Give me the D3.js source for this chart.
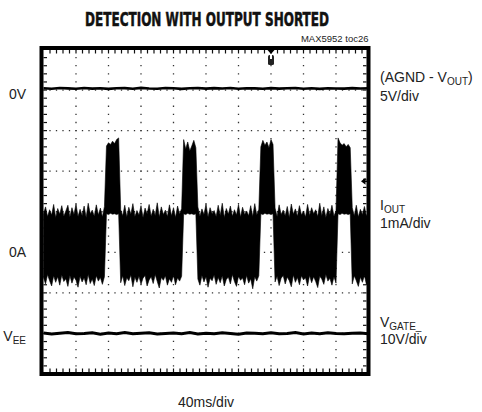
<!DOCTYPE html>
<meta charset="utf-8">
<style>
body { margin: 0; background: #fff; }
text {
  font-family: "Liberation Sans", Arial, sans-serif;
  font-size: 14px;
  fill: #222;
}
.title {
  font-family: "Liberation Sans Narrow", "DejaVu Sans Condensed", sans-serif;
  font-weight: bold;
  font-size: 19px;
  fill: #111;
  stroke: #111;
  stroke-width: 0.5;
}
.note { font-size: 9.5px; }
</style>
<svg width="482" height="412"></svg>
<script src="https://d3js.org/d3.v7.min.js"></script>
<script>

// current trace (IOUT, mA), one min/max pair every 2.5 ms
var timeStep = 2.5;
var iHigh = [
  0.95,1.12,0.88,1.05,0.92,1.18,0.86,1.08,0.94,1.15,0.89,1.02,1.16,0.87,1.10,0.93,1.19,0.88,1.06,0.91,1.14,0.86,1.21,0.95,1.04,0.89,1.17,0.92,1.09,0.87,1.13,
  2.62,2.70,2.66,2.74,2.68,2.78,2.82,
  1.05,0.90,1.16,0.87,1.11,0.94,1.20,0.88,1.03,0.92,1.15,0.86,1.09,0.95,1.18,0.89,1.06,0.91,1.22,0.87,1.12,0.93,1.04,0.88,1.17,0.90,1.10,0.86,1.14,0.94,1.08,
  2.78,2.55,2.72,2.50,2.62,2.76,2.58,
  1.12,0.89,1.07,0.93,1.19,0.87,1.10,0.95,1.03,0.88,1.16,0.91,1.21,0.86,1.08,0.94,1.14,0.89,1.05,0.92,1.18,0.87,1.11,0.93,1.02,0.90,1.15,0.88,1.20,0.92,1.06,
  2.60,2.76,2.64,2.72,2.58,2.78,2.66,
  1.09,0.88,1.17,0.93,1.04,0.90,1.13,0.86,1.19,0.94,1.07,0.89,1.15,0.92,1.02,0.87,1.18,0.91,1.10,0.95,1.05,0.88,1.21,0.90,1.12,0.86,1.08,0.93,1.16,0.89,1.03,
  2.82,2.70,2.64,2.68,2.60,2.66,2.58,
  1.10,0.90,1.16,0.87,1.06,0.93,1.13,0.89,1.02
];
var iLow = [
  -0.62,-0.78,-0.55,-0.70,-0.83,-0.58,-0.74,-0.60,-0.81,-0.56,-0.72,-0.65,-0.84,-0.57,-0.76,-0.61,-0.69,-0.86,-0.59,-0.73,-0.63,-0.80,-0.55,-0.77,-0.66,-0.82,-0.58,-0.71,-0.62,-0.79,-0.60,
  0.95,0.93,0.96,0.94,0.95,0.93,0.95,
  -0.75,-0.58,-0.82,-0.63,-0.70,-0.56,-0.85,-0.61,-0.74,-0.59,-0.79,-0.64,-0.57,-0.83,-0.68,-0.60,-0.77,-0.55,-0.72,-0.88,-0.62,-0.69,-0.58,-0.81,-0.65,-0.74,-0.57,-0.80,-0.63,-0.71,-0.59,
  0.95,0.93,0.96,0.94,0.95,0.93,0.95,
  -0.66,-0.81,-0.57,-0.73,-0.60,-0.86,-0.64,-0.70,-0.56,-0.79,-0.62,-0.75,-0.58,-0.83,-0.67,-0.61,-0.78,-0.55,-0.72,-0.84,-0.59,-0.69,-0.63,-0.80,-0.57,-0.76,-0.65,-0.90,-0.60,-0.71,-0.58,
  0.95,0.93,0.96,0.94,0.95,0.93,0.95,
  -0.73,-0.59,-0.82,-0.64,-0.57,-0.78,-0.61,-0.70,-0.85,-0.56,-0.74,-0.62,-0.80,-0.58,-0.68,-0.63,-0.83,-0.57,-0.75,-0.60,-0.72,-0.87,-0.59,-0.66,-0.79,-0.55,-0.71,-0.64,-0.81,-0.60,-0.76,
  0.95,0.93,0.96,0.94,0.95,0.93,0.95,
  -0.78,-0.58,-0.70,-0.84,-0.61,-0.74,-0.57,-0.80,-0.65
];

// voltage traces, one sample every 10 ms
var traceStep = 10;
var vOut = [0.02,-0.04,0.05,0.01,-0.03,0.06,-0.02,0.03,-0.05,0.02,0.04,-0.03,0.07,0.00,-0.04,0.05,0.02,-0.05,0.03,0.06,-0.02,
            0.04,-0.01,0.05,-0.04,0.02,0.01,-0.03,0.04,-0.02,0.03,0.06,-0.03,0.02,-0.05,0.03,0.00,-0.02,0.04,-0.01,0.02];
var vGate = [0.1,-0.15,0.05,0.2,-0.1,0.0,0.15,-0.2,0.1,-0.05,0.2,-0.1,0.05,0.15,-0.15,0.0,0.1,-0.05,0.2,-0.15,0.05,
             -0.1,0.15,0.0,-0.2,0.1,0.05,-0.1,0.15,-0.05,0.0,0.2,-0.15,0.1,-0.05,0.15,0.0,-0.1,0.05,0.1,-0.05];

// channel settings: position of ground (divisions) and units per division
var ch1Zero = 3.04, ch1Scale = 5;   // AGND - VOUT, V
var ch2Zero = -1,   ch2Scale = 1;   // IOUT, mA
var ch3Zero = -3,   ch3Scale = 10;  // VGATE, V
var triggerTime = 280, triggerLevel = 1.75;

var svg = d3.select("svg");

var x = d3.scaleLinear().domain([0, 400]).range([43.5, 368.5]);
var y = d3.scaleLinear().domain([-4, 4]).range([374, 49.5]);

// grid
var grid = svg.append("g").attr("stroke", "#333").attr("stroke-width", 1.3);
grid.selectAll(".vg").data(d3.range(40, 400, 40)).enter().append("line")
  .attr("x1", d => x(d)).attr("x2", d => x(d))
  .attr("y1", y(4)).attr("y2", y(-4))
  .attr("stroke-dasharray", "1.3," + (y(3.8) - y(4) - 1.3).toFixed(2))
  .attr("stroke-dashoffset", 0.65 - (y(3.8) - y(4)));
grid.selectAll(".hg").data(d3.range(-3, 4)).enter().append("line")
  .attr("y1", d => y(d)).attr("y2", d => y(d))
  .attr("x1", x(0)).attr("x2", x(400))
  .attr("stroke-dasharray", "1.3," + (x(8) - x(0) - 1.3).toFixed(2))
  .attr("stroke-dashoffset", 0.65 - (x(8) - x(0)));

// minor ticks on the frame
var ticks = svg.append("g").attr("stroke", "#111").attr("stroke-width", 1.2);
var tx = d3.range(8, 400, 8), ty = d3.range(-3.8, 4, 0.2);
ticks.selectAll(".tt").data(tx).enter().append("line")
  .attr("x1", d => x(d)).attr("x2", d => x(d)).attr("y1", 50).attr("y2", 53.5);
ticks.selectAll(".tb").data(tx).enter().append("line")
  .attr("x1", d => x(d)).attr("x2", d => x(d)).attr("y1", 372).attr("y2", 368.5);
ticks.selectAll(".tl").data(ty).enter().append("line")
  .attr("y1", d => y(d)).attr("y2", d => y(d)).attr("x1", 43.5).attr("x2", 47);
ticks.selectAll(".tr").data(ty).enter().append("line")
  .attr("y1", d => y(d)).attr("y2", d => y(d)).attr("x1", 366.5).attr("x2", 363);

// IOUT band
var band = d3.area()
  .x((d, i) => x(i * timeStep))
  .y0((d, i) => y(ch2Zero + iLow[i] / ch2Scale))
  .y1(d => y(ch2Zero + d / ch2Scale));
svg.append("path").datum(iHigh).attr("d", band)
  .attr("fill", "#000").attr("stroke", "#000").attr("stroke-width", 0.6);

// voltage traces
var line1 = d3.line().x((d, i) => x(i * traceStep)).y(d => y(ch1Zero + d / ch1Scale));
var line3 = d3.line().x((d, i) => x(i * traceStep)).y(d => y(ch3Zero + d / ch3Scale));
svg.append("path").datum(vOut).attr("d", line1)
  .attr("fill", "none").attr("stroke", "#000").attr("stroke-width", 2.6);
svg.append("path").datum(vGate).attr("d", line3)
  .attr("fill", "none").attr("stroke", "#000").attr("stroke-width", 3);

// trigger markers
var tX = x(triggerTime);
svg.append("path").attr("d", "M" + (tX - 3.5) + ",50L" + (tX + 3.5) + ",50L" + tX + ",54Z").attr("fill", "#000");
svg.append("rect").attr("x", tX - 3).attr("y", 55).attr("width", 6).attr("height", 10)
  .attr("rx", 1.5).attr("fill", "#222");
svg.append("rect").attr("x", tX - 1).attr("y", 55).attr("width", 2).attr("height", 4).attr("fill", "#fff");
var tY = y(ch2Zero + triggerLevel / ch2Scale);
svg.append("path").attr("d", "M361," + tY + "L365.5," + (tY - 3.5) + "L365.5," + (tY + 3.5) + "Z").attr("fill", "#000");
svg.append("line").attr("x1", 364).attr("x2", 367).attr("y1", tY).attr("y2", tY)
  .attr("stroke", "#000").attr("stroke-width", 1.5);

// frame
svg.append("rect").attr("x", 41.5).attr("y", 48).attr("width", 327).attr("height", 326)
  .attr("fill", "none").attr("stroke", "#000").attr("stroke-width", 4);

// texts
svg.append("text").attr("class", "title").attr("x", 207).attr("y", 26)
  .attr("text-anchor", "middle").attr("textLength", 244).attr("lengthAdjust", "spacingAndGlyphs")
  .text("DETECTION WITH OUTPUT SHORTED");
svg.append("text").attr("class", "note").attr("x", 368.5).attr("y", 42)
  .attr("text-anchor", "end").text("MAX5952 toc26");

function label(xp, yp, main, sub, tail, anchor) {
  var t = svg.append("text").attr("x", xp).attr("y", yp).attr("text-anchor", anchor || "start");
  t.append("tspan").text(main);
  if (sub) {
    t.append("tspan").attr("dy", 3).style("font-size", "10px").text(sub);
    if (tail) t.append("tspan").attr("dy", -3).text(tail);
  }
  return t;
}

label(380, 82, "(AGND - V", "OUT", ")");
label(380, 101, "5V/div");
label(380, 210, "I", "OUT");
label(380, 228, "1mA/div");
label(380, 327, "V", "GATE_");
label(380, 344, "10V/div");

label(26, y(ch1Zero) + 11, "0V", null, null, "end");
label(26, y(ch2Zero) + 5, "0A", null, null, "end");
label(26, y(ch3Zero) + 7.5, "V", "EE", null, "end");

svg.append("text").attr("x", 206).attr("y", 407).attr("text-anchor", "middle").text("40ms/div");

</script>
